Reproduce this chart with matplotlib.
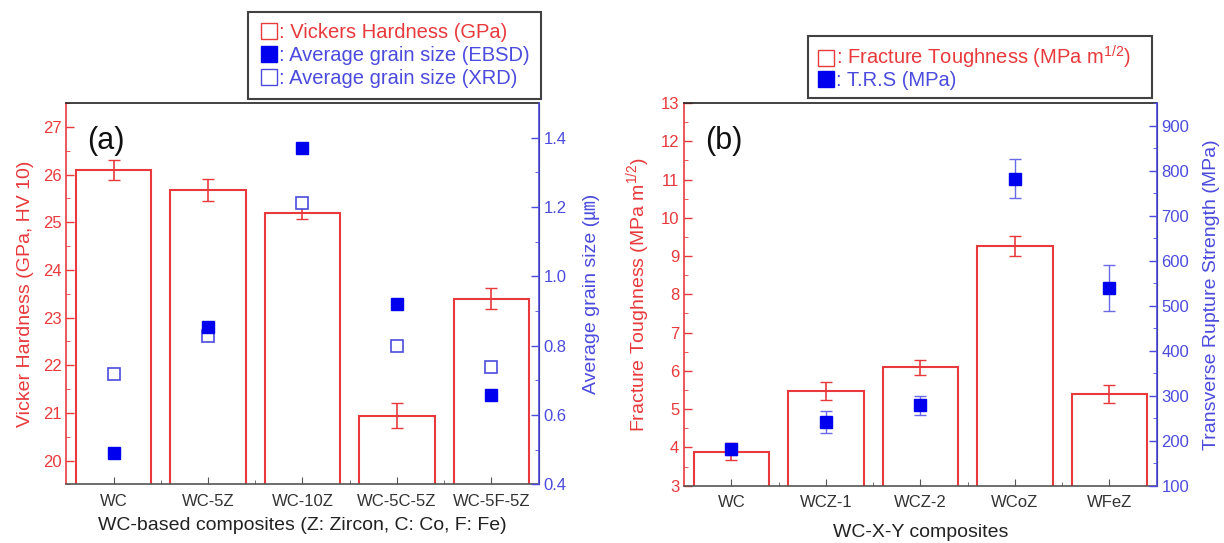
import matplotlib.pyplot as plt
from matplotlib.lines import Line2D
import numpy as np

plt.rcParams['font.family'] = ['Liberation Sans', 'Noto Sans CJK KR']
plt.rcParams['mathtext.default'] = 'regular'

# (a) WC-based composites
cats_a = ["WC", "WC-5Z", "WC-10Z", "WC-5C-5Z", "WC-5F-5Z"]
hv = [26.1, 25.67, 25.2, 20.94, 23.4]
hv_err = [0.21, 0.23, 0.14, 0.26, 0.23]
grain_ebsd = [0.49, 0.853, 1.37, 0.921, 0.658]
grain_xrd = [0.719, 0.829, 1.212, 0.80, 0.74]

# (b) WC-X-Y composites
cats_b = ["WC", "WCZ-1", "WCZ-2", "WCoZ", "WFeZ"]
kic = [3.89, 5.48, 6.09, 9.27, 5.39]
kic_err = [0.22, 0.23, 0.19, 0.26, 0.24]
trs = [181, 242, 279, 782, 539]
trs_err = [12, 25, 21, 44, 52]

RED = '#e8393c'
BLUE = '#0000ee'
LBLUE = '#4b4bdd'

fig = plt.figure(figsize=(12.24, 5.43), dpi=100)


def style_axes(ax, ax2):
    ax.spines['left'].set_color(RED)
    ax.spines['left'].set_linewidth(1.2)
    ax.spines['bottom'].set_color('#555555')
    ax.spines['bottom'].set_linewidth(1.2)
    ax.spines['top'].set_color('#222222')
    ax.spines['top'].set_linewidth(1.2)
    ax2.spines['right'].set_color(LBLUE)
    ax2.spines['right'].set_linewidth(1.2)
    for s in ['left', 'bottom', 'top']:
        ax2.spines[s].set_visible(False)
    ax.tick_params(axis='y', colors=RED, direction='in', length=6, width=1, labelsize=12)
    ax.tick_params(axis='y', which='minor', colors=RED, direction='in', length=3)
    ax.tick_params(axis='x', colors='#555555', direction='in', length=5, labelsize=12,
                   labelcolor='#333333', pad=7)
    ax.tick_params(axis='x', which='minor', direction='in', length=3, colors='#555555')
    ax2.tick_params(axis='y', colors=LBLUE, direction='in', length=6, width=1, labelsize=12)
    ax2.tick_params(axis='y', which='minor', colors=LBLUE, direction='in', length=3)
    ax.set_xlim(0.5, 5.5)
    ax.set_xticks(np.arange(1.5, 5.5, 1), minor=True)


# ---- panel (a)
x = np.arange(1, 6)
ax1 = fig.add_axes([0.0542, 0.108, 0.3858, 0.702])
ax1b = ax1.twinx()
ax1.bar(x, hv, width=0.8, bottom=0, facecolor='white', edgecolor=RED, linewidth=1.5)
ax1.errorbar(x, hv, yerr=hv_err, fmt='none', ecolor=RED, elinewidth=1.2, capsize=4)
ax1.set_ylim(19.5, 27.5)
ax1.set_yticks([20, 21, 22, 23, 24, 25, 26, 27])
ax1.set_yticks(np.arange(19.5, 27.6, 1), minor=True)
ax1.set_xticks(x)
ax1.set_xticklabels(cats_a)
ax1.set_ylabel("Vicker Hardness (GPa, HV 10)", color=RED, fontsize=14, labelpad=6)
ax1.set_xlabel("WC-based composites (Z: Zircon, C: Co, F: Fe)", color='#222222', fontsize=14, labelpad=6)
ax1b.plot(x, grain_xrd, 's', ms=8, mfc='white', mec=LBLUE, mew=1.2, ls='none')
ax1b.plot(x, grain_ebsd, 's', ms=8, mfc=BLUE, mec=BLUE, ls='none')
ax1b.set_ylim(0.4, 1.5)
ax1b.set_yticks([0.4, 0.6, 0.8, 1.0, 1.2, 1.4])
ax1b.set_yticks([0.5, 0.7, 0.9, 1.1, 1.3], minor=True)
ax1b.yaxis.set_major_formatter(plt.FormatStrFormatter('%.1f'))
ax1b.set_ylabel("Average grain size (\u339b)", color=LBLUE, fontsize=14, labelpad=12)
style_axes(ax1, ax1b)
ax1.text(0.045, 0.88, "(a)", transform=ax1.transAxes, fontsize=22, color='#111111')

handles_a = [
    Line2D([], [], marker='s', ls='none', ms=12, mfc='white', mec=RED, mew=1.0),
    Line2D([], [], marker='s', ls='none', ms=12, mfc=BLUE, mec=BLUE),
    Line2D([], [], marker='s', ls='none', ms=12, mfc='white', mec=LBLUE, mew=1.0),
]
leg_a = fig.legend(handles_a, [": Vickers Hardness (GPa)", ": Average grain size (EBSD)",
                               ": Average grain size (XRD)"],
                   loc='upper right', bbox_to_anchor=(541 / 1224, 1 - 12 / 543),
                   borderaxespad=0, fontsize=14.5, frameon=True, fancybox=False,
                   edgecolor='#111111', handletextpad=0.0, handlelength=1.0,
                   labelspacing=0.2, borderpad=0.55, labelcolor=[RED, LBLUE, LBLUE])
leg_a.get_frame().set_linewidth(1.5)

# ---- panel (b)
ax2 = fig.add_axes([0.559, 0.1055, 0.3859, 0.7048])
ax2b = ax2.twinx()
ax2.bar(x, kic, width=0.8, facecolor='white', edgecolor=RED, linewidth=1.5)
ax2.errorbar(x, kic, yerr=kic_err, fmt='none', ecolor=RED, elinewidth=1.2, capsize=4)
ax2.set_ylim(3, 13)
ax2.set_yticks(np.arange(3, 14, 1))
ax2.set_yticks(np.arange(3.5, 13, 1), minor=True)
ax2.set_xticks(x)
ax2.set_xticklabels(cats_b)
ax2.set_ylabel("Fracture Toughness (MPa m$^{1/2}$)", color=RED, fontsize=14, labelpad=6)
ax2.set_xlabel("WC-X-Y composites", color='#222222', fontsize=14, labelpad=10)
ax2b.errorbar(x, trs, yerr=trs_err, fmt='s', ms=8, mfc=BLUE, mec=BLUE,
              ecolor='#6a6ae8', elinewidth=1.0, capsize=4)
ax2b.set_ylim(100, 950)
ax2b.set_yticks(np.arange(100, 901, 100))
ax2b.set_yticks(np.arange(150, 951, 100), minor=True)
ax2b.set_ylabel("Transverse Rupture Strength (MPa)", color=LBLUE, fontsize=14, labelpad=10)
style_axes(ax2, ax2b)
ax2.text(0.045, 0.88, "(b)", transform=ax2.transAxes, fontsize=22, color='#111111')

handles_b = [
    Line2D([], [], marker='s', ls='none', ms=12, mfc='white', mec=RED, mew=1.0),
    Line2D([], [], marker='s', ls='none', ms=12, mfc=BLUE, mec=BLUE),
]
leg_b = fig.legend(handles_b, [": Fracture Toughness (MPa m$^{1/2}$)   ", ": T.R.S (MPa)"],
                   loc='upper left', bbox_to_anchor=(808 / 1224, 1 - 36 / 543),
                   borderaxespad=0, fontsize=14.5, frameon=True, fancybox=False,
                   edgecolor='#111111', handletextpad=0.0, handlelength=1.0,
                   labelspacing=0.0, borderpad=0.4, labelcolor=[RED, LBLUE])
leg_b.get_frame().set_linewidth(1.5)

fig.savefig("out.png", dpi=100, facecolor='white')
